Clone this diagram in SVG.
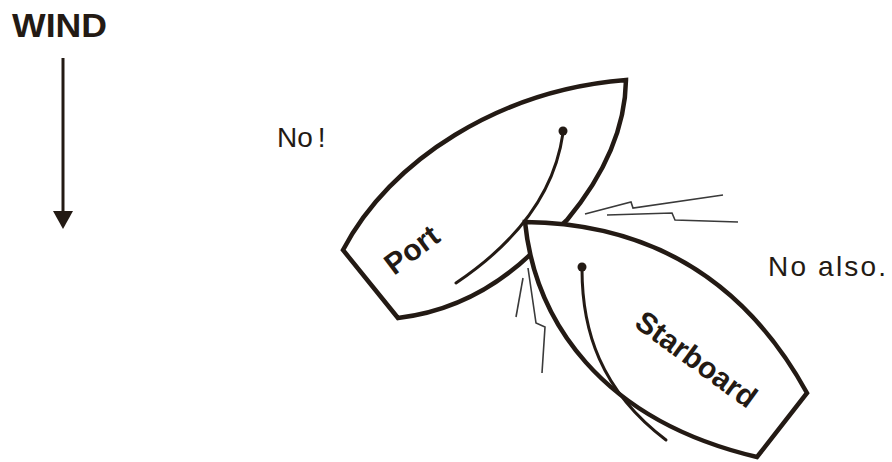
<svg xmlns="http://www.w3.org/2000/svg" width="892" height="462" viewBox="0 0 892 462">
<defs>
<style>
.hull{fill:#fff;stroke:#231a14;stroke-width:4.5;stroke-linejoin:miter;stroke-linecap:round}
.sail{fill:none;stroke:#231a14;stroke-width:3;stroke-linecap:round}
.mast{fill:#231a14}
.crash{fill:none;stroke:#3a3a3a;stroke-width:1.6;stroke-linejoin:miter}
.lbl{font-family:"Liberation Sans",Arial,sans-serif;fill:#231a14}
.b{font-weight:bold}
</style>
</defs>
<rect width="892" height="462" fill="#fff"/>
<g id="wind">
<text class="lbl b" x="12" y="37" font-size="34" textLength="95" lengthAdjust="spacingAndGlyphs">WIND</text>
<line x1="63" y1="58" x2="63" y2="212" stroke="#231a14" stroke-width="3"/>
<path d="M53,211 L73,211 L63,229 Z" fill="#231a14"/>
</g>
<g id="port">
<path class="hull" d="M343,250 C390,160 500,90 626,80 Q625,150 567,220 L533,252 Q474,309 398,318 Z"/>
<path class="sail" d="M563,133 C555,190 520,240 456,283"/>
<circle class="mast" cx="563" cy="131" r="4.5"/>
<text class="lbl b" font-size="30" transform="translate(394,276) rotate(-37)">Port</text>
</g>
<g id="starboard">
<path class="hull" d="M525,222 Q714,224 807,393 L757,457 C600,420 535,320 525,222 Z"/>
<path class="sail" d="M582,269 C582,330 600,390 666,440"/>
<circle class="mast" cx="582" cy="267" r="4.5"/>
<text class="lbl b" font-size="30" transform="translate(633,326) rotate(36)">Starboard</text>
</g>
<g id="connectors">
<polyline class="crash" points="585,214 631,202 633,208 723,195"/>
<polyline class="crash" points="607,215 672,213 675,220 738,222"/>
<polyline class="crash" points="523,278 516,317"/>
<polyline class="crash" points="528,268 536,323 545,327 542,373"/>
</g>
<text class="lbl" x="277" y="147" font-size="28">No<tspan dx="5">!</tspan></text>
<text class="lbl" x="768" y="276" font-size="28" textLength="118" lengthAdjust="spacing">No also.</text>
</svg>
